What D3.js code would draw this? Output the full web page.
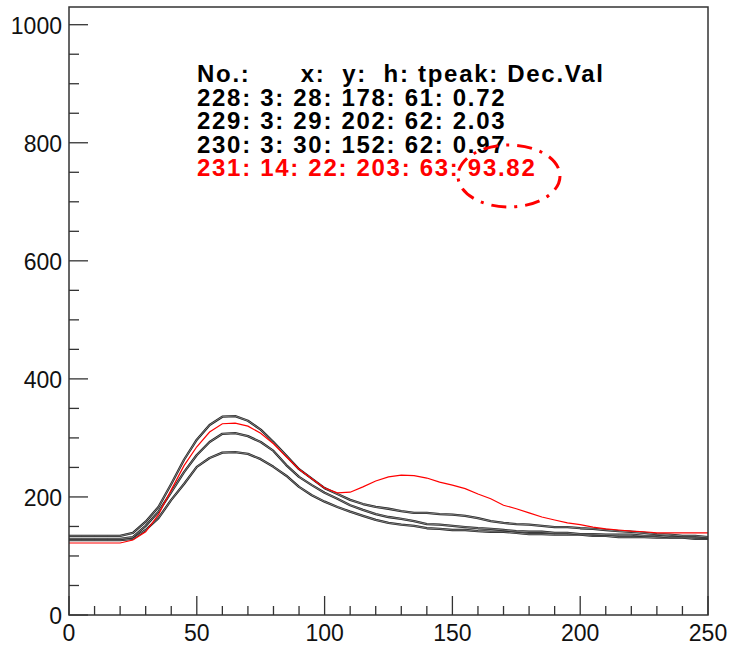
<!DOCTYPE html>
<html lang="en">
<head>
<meta charset="UTF-8">
<title>pulses</title>
<style>
body{margin:0;background:#fff}
text{font-family:"Liberation Sans",Arial,sans-serif}
</style>
</head>
<body>
<script src="https://cdn.jsdelivr.net/npm/d3@7"></script>
<script>
// sample positions (time bins)
var xs = [0,5,10,15,20,25,30,35,40,45,50,55,60,65,70,75,80,85,90,95,100,105,110,115,120,125,130,135,140,145,150,155,160,165,170,175,180,185,190,195,200,205,210,215,220,225,230,235,240,245,250]

// waveforms
var ch228 = [129,129,129,129,129,132,151,175,208,242,271,293,307,308,303,293,278,254,234,220,207,197,186,178,171,166,163,159,154,153,151,149,147,146,144,142,141,141,139,139,137,137,136,136,136,134,134,132,132,132,131]
var ch229 = [134,134,134,134,134,139,158,183,222,263,297,322,336,337,329,314,293,270,247,231,215,205,195,188,183,180,176,173,173,171,170,168,164,159,156,154,153,151,149,149,147,146,144,142,141,139,137,136,134,134,132]
var ch230 = [127,127,127,127,127,129,144,164,195,222,251,266,275,276,273,264,251,236,217,203,192,183,175,168,161,156,153,151,147,146,144,144,142,141,141,139,137,137,136,136,136,134,134,132,132,132,131,131,131,129,129]
var ch231 = [122,122,122,122,122,127,141,170,212,253,285,310,324,325,320,308,290,268,247,231,215,207,208,217,227,234,237,236,232,225,220,214,205,197,186,180,173,166,161,156,153,149,146,144,142,141,139,139,139,139,139]

var legendHead = "No.:      x:  y:  h: tpeak: Dec.Val"
var legendRows = ["228: 3: 28: 178: 61: 0.72","229: 3: 29: 202: 62: 2.03","230: 3: 30: 152: 62: 0.97","231: 14: 22: 203: 63: 93.82"]
var legendColors = ["#000","#000","#000","#000","#ff0000"]

var xMajor = [0,50,100,150,200,250]
var yMajor = [0,200,400,600,800,1000]

var W = 730, H = 645
var padL = 69, padR = 708, padT = 7, padB = 615

var x = d3.scaleLinear().domain([0,250]).range([padL,padR])
var y = d3.scaleLinear().domain([0,1030]).range([padB,padT])

var svg = d3.select('body').append('svg').attr('width',W).attr('height',H)

// curves
var line = d3.line().x(function(d,i){return x(xs[i])}).y(function(d){return y(d)})

var blacks = [ch230,ch228,ch229]
blacks.forEach(function(s){
    svg.append('path').attr('d',line(s)).attr('fill','none').attr('stroke','#222').attr('stroke-width',2.3).attr('stroke-linejoin','round')
    svg.append('path').attr('d',line(s)).attr('fill','none').attr('stroke','#fff').attr('stroke-width',0.6).attr('stroke-opacity',0.7)
})
svg.append('path').attr('d',line(ch231)).attr('fill','none').attr('stroke','#ff0000').attr('stroke-width',1.2)

// frame
svg.append('rect').attr('x',padL).attr('y',padT).attr('width',padR-padL).attr('height',padB-padT)
    .attr('fill','none').attr('stroke','#333').attr('stroke-width',1.5)

// x ticks
var xt = svg.append('g')
xt.selectAll('line').data(d3.range(0,251,10)).enter().append('line')
    .attr('x1',d=>x(d)).attr('x2',d=>x(d)).attr('y1',padB)
    .attr('y2',d=>d%50===0?padB-19:padB-9)
    .attr('stroke','#333').attr('stroke-width',1.3)
xt.selectAll('text').data(xMajor).enter().append('text')
    .attr('x',d=>x(d)).attr('y',641).attr('text-anchor','middle')
    .attr('font-size',23).attr('fill','#111').text(d=>d)

// y ticks
var yt = svg.append('g')
yt.selectAll('line').data(d3.range(0,1001,50)).enter().append('line')
    .attr('y1',d=>y(d)).attr('y2',d=>y(d)).attr('x1',padL)
    .attr('x2',d=>d%200===0?padL+19:padL+10)
    .attr('stroke','#333').attr('stroke-width',1.3)
yt.selectAll('text').data(yMajor).enter().append('text')
    .attr('x',62).attr('y',d=>y(d)+9).attr('text-anchor','end')
    .attr('font-size',23).attr('fill','#111').text(d=>d)

// legend text
var lg = svg.append('g').attr('font-size',24).attr('font-weight','bold').attr('letter-spacing','1.7px')
lg.selectAll('text').data([legendHead].concat(legendRows)).enter().append('text')
    .attr('x',197).attr('y',(d,i)=>82+i*23.5)
    .attr('fill',(d,i)=>legendColors[i])
    .style('white-space','pre')
    .text(d=>d)

// marker round the odd value
svg.append('ellipse').attr('cx',509).attr('cy',176).attr('rx',51).attr('ry',31)
    .attr('fill','none').attr('stroke','#ff0000').attr('stroke-width',3)
    .attr('stroke-dasharray','15,8,3,8')
</script>
</body>
</html>
